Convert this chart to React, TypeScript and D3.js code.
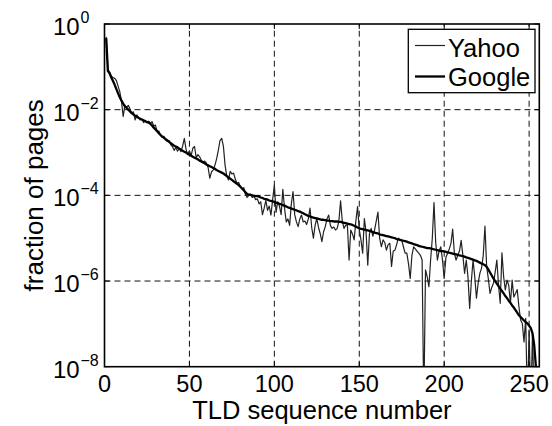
import React from "react";
import * as d3 from "d3";

// log10 of fraction of pages, one value per TLD rank (starting at rank 1)
const yahooLog10: number[] = [
  -0.30, -1.05, -1.12, -1.22, -1.25, -1.27, -1.32, -1.45, -1.58, -1.80,
  -2.16, -1.90, -1.95, -1.90, -1.98, -2.08, -2.05, -2.24, -2.12, -2.18,
  -2.24, -2.22, -2.30, -2.25, -2.30, -2.27, -2.32, -2.28, -2.38, -2.36,
  -2.52, -2.50, -2.60, -2.64, -2.62, -2.70, -2.74, -2.72, -2.82, -2.86,
  -2.95, -2.88, -2.97, -2.90, -2.98, -2.85, -2.67, -2.92, -3.05, -2.96,
  -3.08, -2.90, -2.86, -3.12, -3.05, -3.10, -3.18, -3.22, -3.20, -3.25,
  -3.35, -3.60, -3.45, -3.41, -3.30, -3.15, -2.95, -2.72, -2.67, -2.85,
  -3.30, -3.55, -3.64, -3.44, -3.50, -3.48, -3.62, -3.72, -3.70, -3.80,
  -3.85, -3.82, -3.98, -4.05, -4.00, -3.97, -4.05, -4.02, -4.10, -4.08,
  -4.20, -4.15, -4.45, -4.30, -4.12, -4.35, -4.25, -4.46, -4.10, -3.76,
  -4.40, -4.15, -4.25, -4.45, -3.86, -4.30, -4.62, -4.55, -4.70, -4.20,
  -3.91, -4.45, -4.62, -4.73, -4.55, -4.46, -4.62, -4.60, -4.68, -4.55,
  -4.30, -4.75, -5.00, -4.70, -4.54, -4.75, -4.89, -5.08, -4.85, -4.73,
  -4.55, -4.46, -4.70, -4.77, -4.74, -4.81, -4.77, -4.60, -4.13, -4.60,
  -4.77, -4.70, -4.69, -5.51, -4.81, -4.90, -5.04, -4.60, -4.26, -4.80,
  -5.04, -5.35, -4.54, -4.85, -5.63, -4.90, -4.77, -4.95, -4.81, -4.60,
  -4.39, -5.00, -5.20, -5.04, -5.10, -5.28, -5.15, -5.12, -5.66, -5.30,
  -5.28, -5.15, -5.00, -5.04, -5.04, -5.20, -5.35, -5.35, -5.60, -5.94,
  -5.40, -5.20, -5.25, -5.30, -5.35, -5.40, -5.51, -10.0, -5.74, -5.90,
  -6.13, -5.51, -5.00, -4.17, -5.10, -5.51, -5.30, -5.20, -5.51, -5.94,
  -5.45, -5.35, -5.25, -5.12, -4.79, -5.35, -5.51, -5.40, -5.30, -5.05,
  -5.40, -5.82, -5.51, -5.90, -6.64, -6.00, -5.51, -5.90, -6.40, -6.05,
  -5.82, -5.70, -5.40, -4.72, -5.66, -5.95, -6.29, -6.15, -6.05, -5.80,
  -5.51, -6.10, -6.52, -5.34, -5.90, -6.21, -5.98, -6.10, -6.52, -5.98,
  -6.37, -6.29, -6.20, -6.60, -6.91, -6.99, -7.42, -6.87, -10.0, -7.14,
  -10.0, -7.20, -10.0,
];

const googleLog10: number[] = [
  -0.33, -1.10, -1.15, -1.25, -1.33, -1.42, -1.52, -1.62, -1.71, -1.79,
  -1.86, -1.92, -1.96, -2.00, -2.04, -2.08, -2.11, -2.14, -2.17, -2.19,
  -2.21, -2.23, -2.25, -2.27, -2.29, -2.30, -2.33, -2.37, -2.42, -2.46,
  -2.50, -2.55, -2.59, -2.63, -2.66, -2.69, -2.72, -2.75, -2.78, -2.81,
  -2.84, -2.86, -2.88, -2.91, -2.93, -2.96, -2.98, -3.00, -3.03, -3.05,
  -3.07, -3.10, -3.12, -3.14, -3.16, -3.19, -3.21, -3.23, -3.25, -3.28,
  -3.30, -3.32, -3.34, -3.36, -3.38, -3.41, -3.43, -3.45, -3.47, -3.49,
  -3.52, -3.55, -3.58, -3.61, -3.64, -3.67, -3.70, -3.73, -3.76, -3.80,
  -3.84, -3.88, -3.93, -3.97, -3.98, -3.99, -4.00, -4.01, -4.02, -4.02,
  -4.03, -4.05, -4.06, -4.08, -4.09, -4.10, -4.12, -4.13, -4.14, -4.15,
  -4.17, -4.18, -4.20, -4.21, -4.23, -4.24, -4.26, -4.28, -4.29, -4.31,
  -4.32, -4.34, -4.35, -4.37, -4.38, -4.40, -4.42, -4.44, -4.46, -4.48,
  -4.49, -4.51, -4.52, -4.53, -4.54, -4.55, -4.56, -4.57, -4.57, -4.58,
  -4.59, -4.59, -4.60, -4.60, -4.61, -4.61, -4.61, -4.62, -4.62, -4.63,
  -4.64, -4.65, -4.66, -4.67, -4.68, -4.69, -4.71, -4.73, -4.75, -4.77,
  -4.78, -4.79, -4.80, -4.81, -4.82, -4.83, -4.84, -4.86, -4.87, -4.88,
  -4.89, -4.91, -4.92, -4.93, -4.94, -4.95, -4.96, -4.97, -4.98, -4.99,
  -5.00, -5.02, -5.03, -5.04, -5.05, -5.06, -5.07, -5.08, -5.10, -5.11,
  -5.12, -5.14, -5.15, -5.16, -5.18, -5.19, -5.20, -5.21, -5.22, -5.23,
  -5.23, -5.24, -5.25, -5.26, -5.27, -5.28, -5.29, -5.30, -5.30, -5.31,
  -5.32, -5.33, -5.34, -5.35, -5.36, -5.37, -5.38, -5.39, -5.40, -5.41,
  -5.42, -5.43, -5.45, -5.46, -5.47, -5.49, -5.50, -5.52, -5.53, -5.55,
  -5.57, -5.59, -5.61, -5.63, -5.67, -5.73, -5.80, -5.87, -5.94, -6.00,
  -6.06, -6.12, -6.18, -6.23, -6.29, -6.35, -6.40, -6.46, -6.51, -6.57,
  -6.62, -6.68, -6.74, -6.80, -6.84, -6.88, -6.92, -6.96, -6.99, -7.04,
  -7.10, -7.22, -7.50, -8.00, -8.60,
];

const xTicks: number[] = [0, 50, 100, 150, 200, 250];
const yTickExponents: number[] = [0, -2, -4, -6, -8];
const seriesNames: string[] = ["Yahoo", "Google"];
const xLabel = "TLD sequence number";
const yLabel = "fraction of pages";

const W = 552;
const H = 426;
const L = 104.5;
const R = 539.3;
const T = 24;
const B = 366.7;
const FONT = "'Liberation Sans', Arial, Helvetica, sans-serif";

export default function App() {
  const x = d3.scaleLinear().domain([0, 256]).range([L, R]);
  const y = d3.scaleLog().domain([1e-8, 1]).range([B, T]);

  const toPts = (arr: number[]) =>
    arr.map((e, i) => ({ rank: i + 1, v: Math.pow(10, e) }));
  const line = d3
    .line<{ rank: number; v: number }>()
    .x((d) => x(d.rank))
    .y((d) => Math.min(y(d.v), B + 40));

  const yahooPath = line(toPts(yahooLog10)) || "";
  const googlePath = line(toPts(googleLog10)) || "";

  const dash = "6,4";
  const tickLen = 5;

  return (
    <svg
      width={W}
      height={H}
      viewBox={`0 0 ${W} ${H}`}
      style={{ position: "absolute", left: 0, top: 0, background: "#fff" }}
      fontFamily={FONT}
    >
      <rect x={0} y={0} width={W} height={H} fill="#fff" />
      <defs>
        <clipPath id="plotClip">
          <rect x={L} y={T} width={R - L} height={B - T} />
        </clipPath>
      </defs>

      {/* grid */}
      <g stroke="#111" strokeWidth={1} strokeDasharray={dash} fill="none">
        {xTicks
          .filter((t) => t > 0)
          .map((t) => (
            <line key={"gx" + t} x1={x(t)} x2={x(t)} y1={B} y2={T} />
          ))}
        {yTickExponents
          .filter((e) => e < 0 && e > -8)
          .map((e) => (
            <line key={"gy" + e} x1={L} x2={R} y1={y(Math.pow(10, e))} y2={y(Math.pow(10, e))} />
          ))}
      </g>

      {/* data */}
      <g clipPath="url(#plotClip)" fill="none" strokeLinejoin="round">
        <path d={yahooPath} stroke="#222" strokeWidth={1.2} />
        <path d={googlePath} stroke="#000" strokeWidth={2.3} />
      </g>

      {/* ticks */}
      <g stroke="#000" strokeWidth={1}>
        {xTicks.map((t) => (
          <g key={"tx" + t}>
            <line x1={x(t)} x2={x(t)} y1={B} y2={B - tickLen} />
            <line x1={x(t)} x2={x(t)} y1={T} y2={T + tickLen} />
          </g>
        ))}
        {yTickExponents.map((e) => (
          <g key={"ty" + e}>
            <line x1={L} x2={L + tickLen} y1={y(Math.pow(10, e))} y2={y(Math.pow(10, e))} />
            <line x1={R} x2={R - tickLen} y1={y(Math.pow(10, e))} y2={y(Math.pow(10, e))} />
          </g>
        ))}
      </g>

      {/* frame */}
      <rect x={L} y={T} width={R - L} height={B - T} fill="none" stroke="#000" strokeWidth={1.6} />

      {/* x tick labels */}
      <g fontSize={23.5} fill="#000" textAnchor="middle">
        {xTicks.map((t) => (
          <text key={"lx" + t} x={x(t)} y={391.5}>
            {t}
          </text>
        ))}
      </g>

      {/* y tick labels */}
      <g fill="#000">
        {yTickExponents.map((e) => {
          const yy = y(Math.pow(10, e));
          return (
            <g key={"ly" + e}>
              <text x={53} y={yy + 11} fontSize={24}>
                10
              </text>
              <text x={80.5} y={yy - 1} fontSize={16}>
                {e === 0 ? "0" : "\u2212" + Math.abs(e)}
              </text>
            </g>
          );
        })}
      </g>

      {/* axis titles */}
      <text x={(L + R) / 2} y={418.5} fontSize={25.5} textAnchor="middle" fill="#000">
        {xLabel}
      </text>
      <text
        transform={`translate(43, ${(T + B) / 2}) rotate(-90)`}
        fontSize={26}
        textAnchor="middle"
        fill="#000"
      >
        {yLabel}
      </text>

      {/* legend */}
      <g>
        <rect x={408.3} y={29.3} width={126.7} height={63.4} fill="#fff" stroke="#000" strokeWidth={1.3} />
        <line x1={415} x2={445} y1={45.5} y2={45.5} stroke="#222" strokeWidth={1.2} />
        <line x1={415} x2={445} y1={76.5} y2={76.5} stroke="#000" strokeWidth={2.3} />
        <text x={448} y={56.5} fontSize={25.5} fill="#000">
          {seriesNames[0]}
        </text>
        <text x={448} y={85.5} fontSize={25.5} fill="#000">
          {seriesNames[1]}
        </text>
      </g>
    </svg>
  );
}
